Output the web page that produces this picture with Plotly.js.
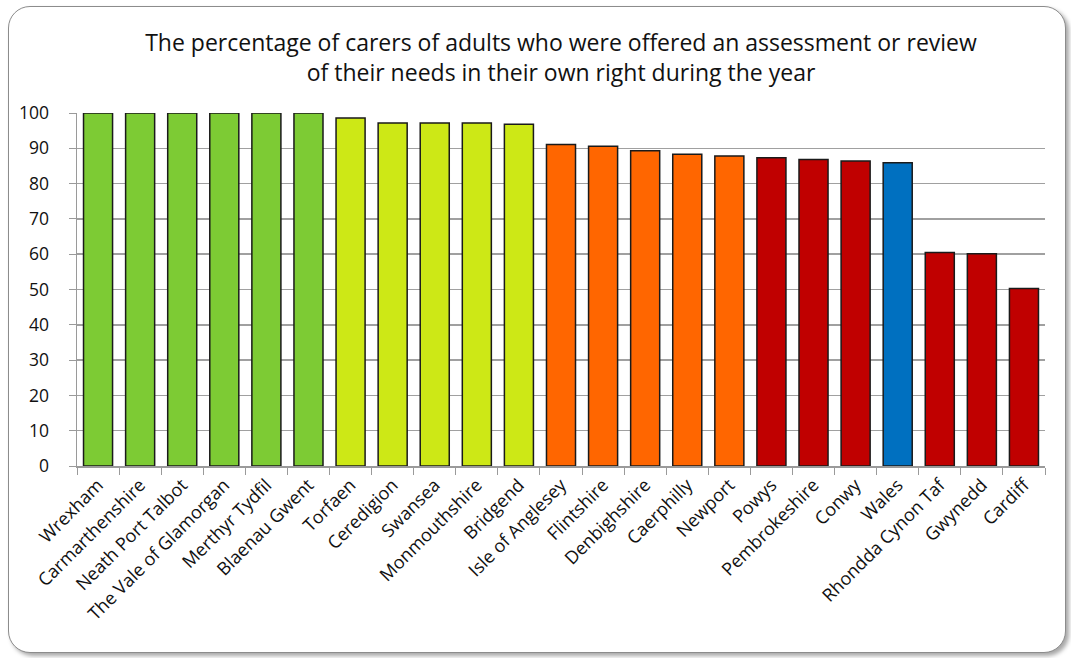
<!DOCTYPE html>
<html>
<head>
<meta charset="utf-8">
<script src="https://cdn.plot.ly/plotly-3.0.1.min.js"></script>
<style>
html,body{margin:0;padding:0;background:#fff;width:1071px;height:658px;overflow:hidden;}
#frame{position:absolute;left:8px;top:6px;width:1056px;height:645px;border:1.5px solid #8c8c8c;border-radius:22px;box-shadow:3px 3px 4px rgba(0,0,0,0.35);background:#fff;}
#chart{position:absolute;left:0;top:0;width:1071px;height:658px;}
</style>
</head>
<body>
<div id="frame"></div>
<div id="chart"></div>
<script>
const categories = ["Wrexham","Carmarthenshire","Neath Port Talbot","The Vale of Glamorgan","Merthyr Tydfil","Blaenau Gwent","Torfaen","Ceredigion","Swansea","Monmouthshire","Bridgend","Isle of Anglesey","Flintshire","Denbighshire","Caerphilly","Newport","Powys","Pembrokeshire","Conwy","Wales","Rhondda Cynon Taf","Gwynedd","Cardiff"];
const values = [100,100,100,100,100,100,98.6,97.2,97.2,97.2,96.8,91.1,90.6,89.3,88.3,87.8,87.3,86.8,86.4,85.9,60.5,60.1,50.3];
const groups = ["g","g","g","g","g","g","y","y","y","y","y","o","o","o","o","o","r","r","r","b","r","r","r"];
const groupColors = {g:"#7dcb34", y:"#cde816", o:"#ff6600", r:"#c00000", b:"#0070c0"};
const yTicks = [0,10,20,30,40,50,60,70,80,90,100];
const titleText = "The percentage of carers of adults who were offered an assessment or review<br>of their needs in their own right during the year";

const trace = {
  type: "bar",
  x: categories,
  y: values,
  marker: {color: groups.map(g => groupColors[g]), line: {color: "#1a1a1a", width: 1.5}},
  hoverinfo: "x+y"
};

const layout = {
  width: 1071, height: 658,
  paper_bgcolor: "rgba(0,0,0,0)",
  plot_bgcolor: "rgba(0,0,0,0)",
  margin: {l: 77, r: 26, t: 113, b: 192},
  bargap: 0.31,
  showlegend: false,
  title: {text: titleText, x: 0.5, xref: "paper", xanchor: "center", yref: "container", y: 0.922, yanchor: "top",
          font: {family: "Open Sans, Liberation Sans, sans-serif", size: 23, color: "#111"}},
  font: {family: "Open Sans, Liberation Sans, sans-serif", color: "#111"},
  xaxis: {
    type: "category",
    tickangle: -45,
    tickfont: {size: 18, color: "#111"},
    showline: true, linecolor: "#9a9a9a", linewidth: 1.5,
    ticks: "outside", ticklen: 7, tickcolor: "#9a9a9a", tickson: "boundaries",
    showgrid: false, fixedrange: true
  },
  yaxis: {
    range: [0, 100],
    tickvals: yTicks,
    ticktext: yTicks.map(String),
    tickfont: {size: 17.5, color: "#111"},
    showline: true, linecolor: "#9a9a9a", linewidth: 1.5,
    ticks: "outside", ticklen: 7, tickcolor: "#9a9a9a",
    ticklabelstandoff: 16,
    showgrid: true, gridcolor: "#a0a0a0", gridwidth: 1.5,
    zeroline: false, fixedrange: true
  }
};

Plotly.newPlot("chart", [trace], layout, {displayModeBar: false, staticPlot: true});
</script>
</body>
</html>
